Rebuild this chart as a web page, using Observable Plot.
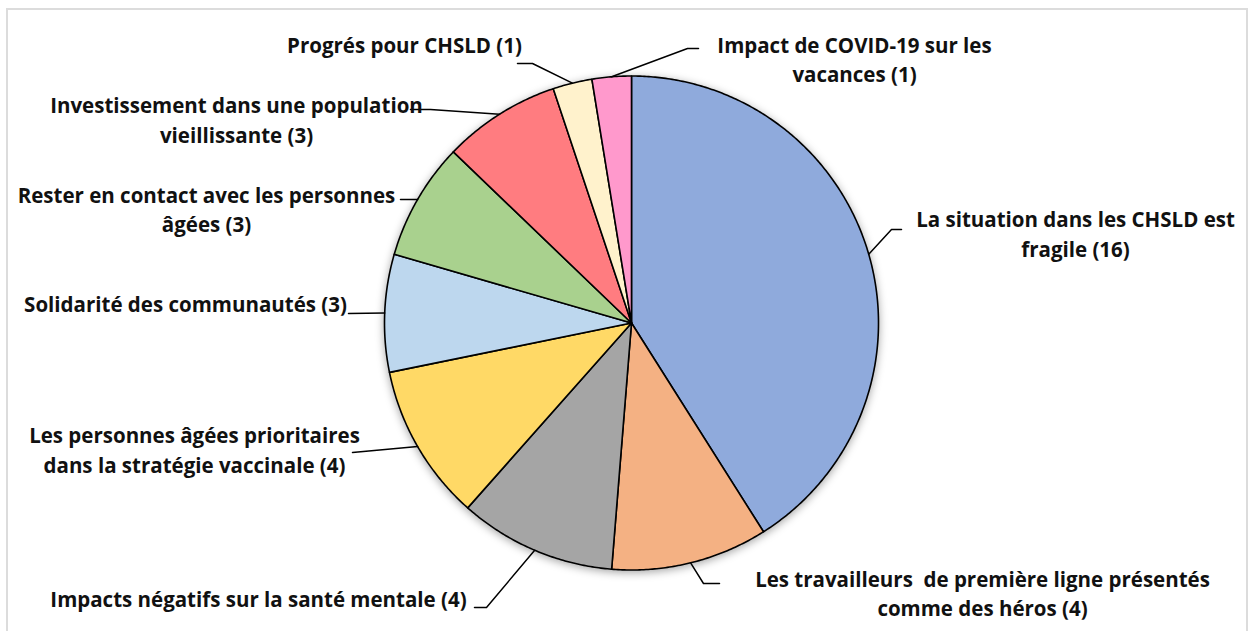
<!DOCTYPE html>
<html><head><meta charset="utf-8">
<script src="https://cdn.jsdelivr.net/npm/d3@7"></script>
<script src="https://cdn.jsdelivr.net/npm/@observablehq/plot@0.6"></script>
<style>
html,body{margin:0;padding:0;background:#fff;}
#frame{position:absolute;left:6px;top:8px;width:1242px;height:640px;border:2px solid #dcdcdc;box-sizing:border-box;}
#chart{position:absolute;left:0;top:0;}
.pie{filter: drop-shadow(0px 2px 4px rgba(0,0,0,0.35));}
</style></head><body><div id="frame"></div><div id="chart"></div>
<script>
// ---- data ----
const categories = [
  "La situation dans les CHSLD est\nfragile (16)",
  "Les travailleurs  de première ligne présentés\ncomme des héros (4)",
  "Impacts négatifs sur la santé mentale (4)",
  "Les personnes âgées prioritaires\ndans la stratégie vaccinale (4)",
  "Solidarité des communautés (3)",
  "Rester en contact avec les personnes\nâgées (3)",
  "Investissement dans une population\nvieillissante (3)",
  "Progrés pour CHSLD (1)",
  "Impact de COVID-19 sur les\nvacances (1)"
];
const counts = [16, 4, 4, 4, 3, 3, 3, 1, 1];
const colors = ["#8FAADC", "#F4B183", "#A5A5A5", "#FFD966", "#BDD7EE", "#A9D18E", "#FF7C80", "#FFF2CC", "#FF99CC"];

// ---- layout ----
const labelX = [1075, 982, 258, 194, 185, 206, 236, 404, 854];
const labelY = [232, 591.5, 597, 448, 302, 207.5, 118, 43, 57.5];
const leaderBends = [
  [[891,229],[901,229]],
  [[703,583],[719,583]],
  [[486,607],[474,607]],
  [[352,452]],
  [[348,313]],
  [[412,199],[400,199]],
  [[430,109],[410,109]],
  [[532,63],[517,63]],
  [[687,48],[698,48]]
];
const cx = 631, cy = 322.5, R = 247;

const arcs = d3.pie().sort(null).value(d => d)(counts);
const pt = a => [cx + R * Math.sin(a), cy - R * Math.cos(a)];

const sliceRows = [];
arcs.forEach((a, i) => {
  sliceRows.push({name: i, color: colors[i], x: cx, y: cy});
  const n = Math.max(2, Math.ceil((a.endAngle - a.startAngle) / (Math.PI / 360)));
  for (let k = 0; k <= n; k++) {
    const [x, y] = pt(a.startAngle + (a.endAngle - a.startAngle) * k / n);
    sliceRows.push({name: i, color: colors[i], x, y});
  }
});

const leaderRows = [];
arcs.forEach((a, i) => {
  const [x0, y0] = pt((a.startAngle + a.endAngle) / 2);
  leaderRows.push({name: i, x: x0, y: y0});
  leaderBends[i].forEach(([x, y]) => leaderRows.push({name: i, x, y}));
});

const labels = categories.map((t, i) => ({text: t, x: labelX[i], y: labelY[i]}));

const chart = Plot.plot({
  width: 1250, height: 631, margin: 0,
  x: {domain: [0, 1250], range: [0, 1250], axis: null},
  y: {domain: [0, 631], range: [0, 631], axis: null},
  color: {type: "identity"},
  style: {fontFamily: "Open Sans", background: "transparent"},
  marks: [
    Plot.line(sliceRows, {x: "x", y: "y", z: "name", fill: "color", stroke: "#000", strokeWidth: 1.6, curve: "linear-closed", strokeLinejoin: "round", className: "pie"}),
    Plot.line(leaderRows, {x: "x", y: "y", z: "name", stroke: "#000", strokeWidth: 1.5}),
    Plot.text(labels, {x: "x", y: "y", text: "text", fontSize: 20.5, fontWeight: "bold", lineHeight: 1.44, fill: "#111", fontFamily: "Open Sans"})
  ]
});
document.getElementById("chart").appendChild(chart);
</script>
</body></html>
